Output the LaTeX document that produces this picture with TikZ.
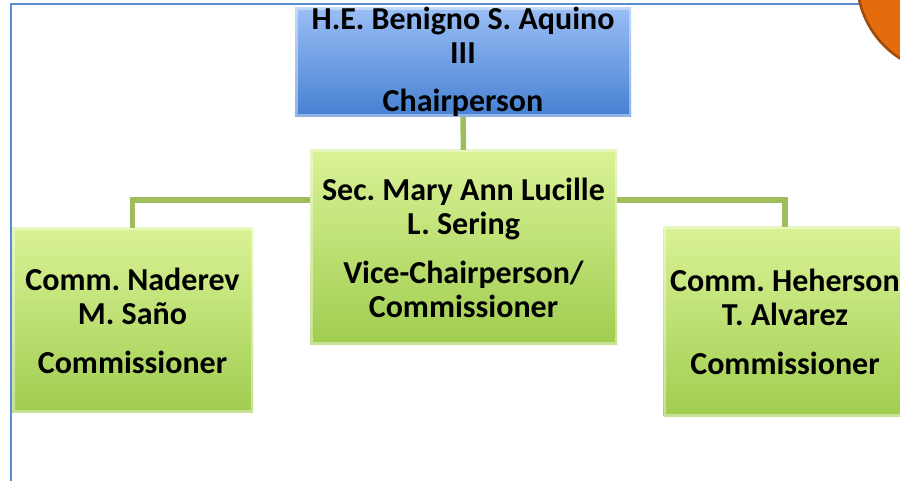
\documentclass[tikz,border=0pt]{standalone}
\usepackage{fontspec}
\setmainfont{Carlito}
\frenchspacing
\definecolor{FrameColor}{RGB}{90,140,210}
\definecolor{ChairTop}{RGB}{155,190,245}
\definecolor{ChairBottom}{RGB}{70,128,210}
\definecolor{MemberTop}{RGB}{218,242,150}
\definecolor{MemberBottom}{RGB}{160,205,80}
\definecolor{LinkColor}{RGB}{158,189,92}
\definecolor{BadgeColor}{RGB}{228,108,12}
\definecolor{BadgeEdge}{RGB}{158,74,10}
\usetikzlibrary{positioning}
\tikzstyle{link} = [line width=5.5pt, LinkColor]
\tikzset{
  bevel/.style={path picture={
      \draw[white, opacity=0.4, line width=5pt]
        (path picture bounding box.south west) rectangle (path picture bounding box.north east);}},
  chair box/.style={rectangle, bevel, top color=ChairTop, bottom color=ChairBottom,
      inner sep=0pt, align=center, font=\fontsize{32}{34}\selectfont\bfseries},
  member box/.style={rectangle, bevel, top color=MemberTop, bottom color=MemberBottom,
      inner sep=0pt, align=center, font=\fontsize{32}{34}\selectfont\bfseries}
}
\begin{document}
\begin{tikzpicture}[x=1pt, y=1pt]
  \useasboundingbox (0,0) rectangle (900,481);
  % Slide frame and corner badge
  \draw[FrameColor, line width=1.6pt] (11,0) -- (11,477) -- (870,477);
  \filldraw[fill=BadgeColor, draw=BadgeEdge, line width=2.5pt] (950,501) circle (93);

  % Chairperson
  \node[chair box, minimum width=336, minimum height=108] (chair) at (463,419)
    {H.E. Benigno S. Aquino\\III\\[14pt]Chairperson};

  % Vice-chairperson
  \node[member box, minimum width=307, minimum height=195] (vice) at (463.5,233.5)
    {Sec. Mary Ann Lucille\\L. Sering\\[15pt]Vice-Chairperson/\\Commissioner};

  % Commissioners
  \node[member box, minimum width=241, minimum height=185] (naderev) at (132.5,160.5)
    {Comm. Naderev\\M. Saño\\[15pt]Commissioner};
  \node[member box, minimum width=243, minimum height=190] (heherson) at (785,159)
    {Comm. Heherson\\T. Alvarez\\[15pt]Commissioner};

  % Connectors
  \draw[link] (chair.south) -- (vice.north);
  \draw[link] ([yshift=-50pt]vice.north west) -| (naderev.north);
  \draw[link] ([yshift=-50pt]vice.north east) -| (heherson.north);
\end{tikzpicture}
\end{document}
